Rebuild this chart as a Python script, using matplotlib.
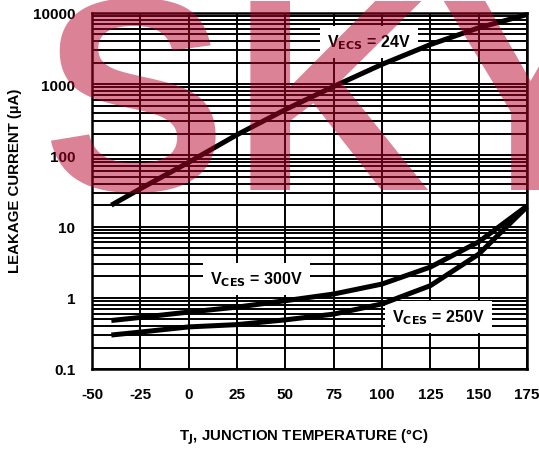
import matplotlib
matplotlib.use("Agg")
import matplotlib.pyplot as plt
from matplotlib.ticker import LogLocator, NullFormatter, FixedLocator

# ---- data ----
temp = [-40, -25, 0, 25, 50, 75, 100, 125, 150, 175]
i_ecs_24v = [20, 34, 80, 195, 440, 930, 1900, 3600, 6200, 9500]
i_ces_300v = [0.48, 0.53, 0.63, 0.74, 0.91, 1.13, 1.56, 2.7, 6.1, 19.5]
i_ces_250v = [0.30, 0.33, 0.39, 0.42, 0.49, 0.59, 0.82, 1.48, 4.1, 19.0]
xticks = [-50, -25, 0, 25, 50, 75, 100, 125, 150, 175]
yticks = [0.1, 1, 10, 100, 1000, 10000]
ytick_labels = ["0.1", "1", "10", "100", "1000", "10000"]
watermark_letters = ["S", "K", "Y"]

plt.rcParams['font.family'] = ['Liberation Sans', 'DejaVu Sans']
plt.rcParams['font.weight'] = 'bold'
plt.rcParams['mathtext.default'] = 'bf'

W, H = 539, 452
fig = plt.figure(figsize=(W / 100, H / 100), dpi=100)
ax = fig.add_axes([92 / W, 1 - 370 / H, (527 - 92) / W, (370 - 14) / H])

ax.set_yscale('log')
ax.set_xlim(-50, 175)
ax.set_ylim(0.1, 10000)

for series in (i_ecs_24v, i_ces_300v, i_ces_250v):
    ax.plot(temp, series, color='black', lw=3.6, solid_capstyle='butt',
            solid_joinstyle='round', zorder=5, clip_on=False)

ax.xaxis.set_major_locator(FixedLocator(xticks))
ax.yaxis.set_major_locator(FixedLocator(yticks))
ax.set_xticklabels([str(v) for v in xticks], fontsize=11, fontweight='bold')
ax.set_yticklabels(ytick_labels, fontsize=11, fontweight='bold')
ax.yaxis.set_minor_locator(LogLocator(base=10, subs=[2, 3, 4, 5, 6, 7, 8, 9], numticks=20))
ax.yaxis.set_minor_formatter(NullFormatter())
ax.tick_params(which='both', length=0)
ax.tick_params(axis='x', pad=13)
ax.tick_params(axis='y', pad=12)

ax.grid(which='major', color='black', lw=1.4, zorder=1)
ax.grid(which='minor', axis='y', color='black', lw=1.4, zorder=1)
ax.set_axisbelow(True)
for s in ax.spines.values():
    s.set_linewidth(1.8)
    s.set_color('black')

bbox = dict(facecolor='white', edgecolor='none', pad=5)
ax.text(71.5, 3900, r"V$_{\mathbf{ECS}}$ = 24V", fontsize=11.5, fontweight='bold',
        ha='left', va='center', bbox=bbox, zorder=4)
ax.text(11.0, 1.84, r"V$_{\mathbf{CES}}$ = 300V", fontsize=11.5, fontweight='bold',
        ha='left', va='center', bbox=bbox, zorder=4)
ax.text(105.2, 0.537, r"V$_{\mathbf{CES}}$ = 250V", fontsize=11.5, fontweight='bold',
        ha='left', va='center', bbox=bbox, zorder=4)

fig.text(304 / W, 1 - 437 / H, r"T$_{\mathbf{J}}$, JUNCTION TEMPERATURE (°C)",
         fontsize=10.8, fontweight='bold', ha='center', va='center')
fig.text(15 / W, 1 - 181 / H, "LEAKAGE CURRENT (µA)", fontsize=10.8, fontweight='bold',
         rotation=90, ha='center', va='center')

# watermark "SKY" overlaid semi-transparently on top of everything
wm_color = (184 / 255, 0, 41 / 255)
wm_x = [42, 232, 438]
for letter, xp in zip(watermark_letters, wm_x):
    fig.text(xp / W, 1 - 190 / H, letter, fontsize=198, fontweight='bold',
             family=['Liberation Sans', 'DejaVu Sans'],
             color=wm_color, alpha=0.49, ha='left', va='baseline', zorder=100)

fig.savefig("out.png", dpi=100)
